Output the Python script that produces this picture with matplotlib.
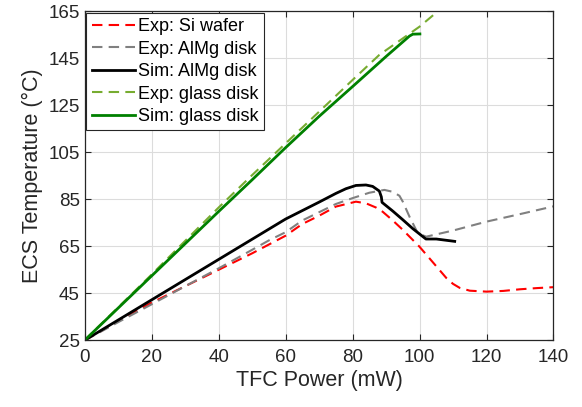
import numpy as np
from matplotlib import pyplot as plt

plt.rcParams['font.family'] = ['Liberation Sans', 'DejaVu Sans']

# Exp: Si wafer
si_x = [0, 5, 10, 20, 30, 40, 50, 60, 65, 70, 75, 81, 84, 87, 89, 92, 95, 100, 105, 108, 110, 112, 115, 120, 125, 130, 135, 140]
si_y = [25, 29, 33.3, 41, 48, 55, 62, 69.5, 74.5, 78, 81.9, 84, 83.3, 81.5, 79.7, 76, 72, 64.8, 56.5, 51.5, 49, 47.3, 46.1, 45.7, 46, 46.7, 47.2, 47.6]

# Exp: AlMg disk
almg_x = [0, 5, 10, 20, 30, 40, 50, 55, 60, 65, 70, 75, 80, 85, 89.5, 92, 94, 95, 97, 99.5, 102, 110, 120, 130, 140]
almg_y = [25, 28.8, 32.7, 40.3, 48, 55.6, 63.5, 67.5, 71, 76, 79.5, 83, 85.5, 87.8, 89, 88.2, 86.5, 84, 77.6, 70.5, 69.1, 71.7, 75.5, 78.7, 82]

# Sim: AlMg disk
sim_almg_x = [0, 10, 20, 30, 40, 50, 60, 65, 70, 75, 78, 81, 84, 86, 88, 88.6, 88.8, 92, 95, 98, 101.9, 105, 110.5]
sim_almg_y = [25, 33.6, 42.2, 50.8, 59.4, 68, 76.6, 80.2, 83.8, 87.5, 89.5, 90.9, 91.1, 90.5, 88.5, 86, 83.7, 80, 76.3, 72.5, 68.1, 68.1, 67.1]

# Exp: glass disk
glass_x = [0, 2.6, 10, 20, 30, 40, 50, 60, 70, 80, 88, 95, 100, 105, 106]
glass_y = [25, 28.7, 39, 53, 67.3, 81.5, 95.3, 108.8, 122.3, 135.8, 146.5, 153.5, 158.5, 164.5, 166]

# Sim: glass disk
sim_glass_x = [0, 10, 20, 30, 40, 50, 60, 70, 80, 90, 97, 98, 100.1]
sim_glass_y = [25, 38.7, 52.4, 66.1, 79.8, 93.3, 107, 120.3, 133, 145.8, 154.5, 155.3, 155.4]

fig = plt.figure(figsize=(5.82, 4.07), dpi=100)
ax = fig.add_axes([0.1455, 0.164, 0.8055, 0.808])

dash = (5, 3)
ax.plot(si_x, si_y, color='red', lw=1.5, ls='--', dashes=dash, label='Exp: Si wafer')
ax.plot(almg_x, almg_y, color='#808080', lw=1.5, ls='--', dashes=dash, label='Exp: AlMg disk')
ax.plot(sim_almg_x, sim_almg_y, color='black', lw=2, solid_joinstyle='round', label='Sim: AlMg disk')
ax.plot(glass_x, glass_y, color='#77AC30', lw=1.5, ls='--', dashes=dash, label='Exp: glass disk')
ax.plot(sim_glass_x, sim_glass_y, color='#008000', lw=2, solid_joinstyle='round', label='Sim: glass disk')

ax.set_xlim(0, 140)
ax.set_ylim(25, 165)
ax.set_xticks(np.arange(0, 141, 20))
ax.set_yticks(np.arange(25, 166, 20))
ax.grid(True, color='#dcdcdc', lw=0.8)
ax.set_axisbelow(True)
ax.tick_params(direction='in', top=True, right=True, labelsize=13.5, colors='#262626', length=4)
ax.tick_params(axis='x', pad=6)
for s in ax.spines.values():
    s.set_color('#262626')
    s.set_linewidth(0.9)

ax.set_xlabel('TFC Power (mW)', fontsize=15.5, color='#262626', labelpad=3)
ax.set_ylabel('ECS Temperature (\u00b0C)', fontsize=15.5, color='#262626', labelpad=4)

leg = ax.legend(loc='upper left', fontsize=13, frameon=True, fancybox=False,
                borderaxespad=0.08, handlelength=2.4, handletextpad=0.15,
                labelspacing=0.3, borderpad=0.3)
leg.get_frame().set_edgecolor('#262626')
leg.get_frame().set_linewidth(0.8)
leg.get_frame().set_alpha(1)

fig.savefig('out.png', dpi=100)
